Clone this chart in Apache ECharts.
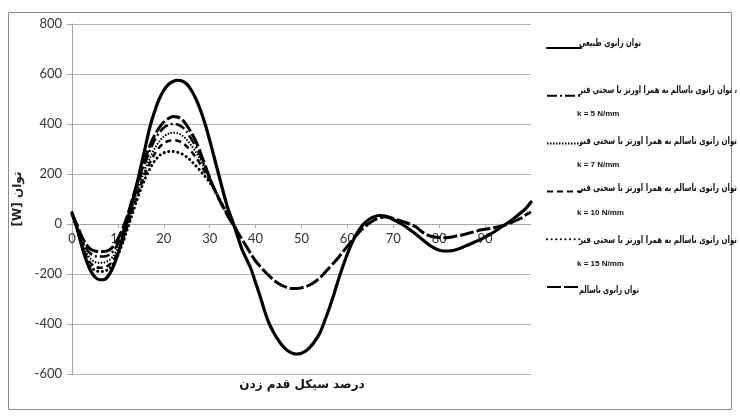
<!DOCTYPE html>
<html>
<head>
<meta charset="utf-8">
<script src="https://cdn.jsdelivr.net/npm/echarts@6/dist/echarts.min.js"></script>
<style>
html,body{margin:0;padding:0;background:#fff;}
#c{width:740px;height:417px;}
</style>
</head>
<body>
<div id="c"></div>
<script>
// gait cycle percent
const pct = Array.from({length: 101}, (_, i) => i);

// Healthy knee power [W]
const normal = [45,-10,-80,-140,-185,-212,-223,-222,-205,-170,-120,-55,10,80,150,230,310,390,450,500,
  535,558,570,575,572,560,535,500,455,400,335,265,195,125,60,10,-45,-100,-140,-180,
  -235,-290,-350,-400,-436,-466,-490,-507,-517,-520,-517,-507,-490,-466,-436,-390,-340,-285,-225,-170,
  -120,-75,-40,-12,8,22,30,34,33,27,18,8,-2,-14,-28,-42,-57,-72,-86,-97,
  -105,-108,-108,-106,-101,-94,-86,-78,-70,-62,-52,-42,-31,-19,-7,5,18,33,48,65,88];

// Unhealthy knee power (full cycle)
const unhealthy = [40,0,-45,-80,-100,-108,-110,-110,-105,-90,-60,-20,30,90,150,210,265,315,355,385,
  408,422,430,428,418,395,365,330,285,235,185,140,100,65,30,0,-30,-60,-90,-120,
  -148,-170,-190,-208,-225,-238,-248,-255,-258,-258,-255,-250,-242,-230,-215,-196,-176,-156,-135,-112,
  -90,-66,-44,-24,-8,6,17,25,28,27,22,16,10,4,-4,-12,-28,-40,-48,-52,
  -54,-55,-54,-51,-47,-44,-39,-34,-29,-24,-21,-18,-14,-11,-6,0,8,16,25,38,48];

// Unhealthy knee with orthosis (0–36 %)
const k5  = [40,-5,-55,-95,-118,-128,-130,-130,-124,-108,-78,-35,15,75,135,195,248,295,335,365,385,396,400,398,388,368,340,308,270,228,185,142,102,66,32,2,-28];
const k7  = [40,-10,-65,-110,-138,-152,-155,-154,-146,-128,-96,-52,0,58,116,172,222,265,302,330,350,361,365,363,354,337,314,287,255,220,182,142,103,67,33,3,-27];
const k10 = [40,-12,-72,-122,-155,-170,-175,-174,-165,-146,-112,-66,-12,45,102,156,205,246,280,306,323,332,335,333,325,310,290,266,238,208,176,140,103,68,34,4,-26];
const k15 = [40,-15,-78,-132,-168,-185,-190,-189,-180,-160,-125,-78,-24,32,88,140,185,222,252,273,285,290,290,287,280,268,252,233,212,190,166,138,104,70,36,5,-25];

const nameNormal = 'توان زانوی طبیعی';
const nameOrth = 'توان زانوی ناسالم به همرا اورتز با سختی فنر';
const nameUnhealthy = 'توان زانوی ناسالم';
const kLabels = ['k = 5 N/mm', 'k = 7 N/mm', 'k = 10 N/mm', 'k = 15 N/mm'];
const xTitle = 'درصد سیکل قدم زدن';
const yTitle = '[W] توان';

const pairs = arr => arr.map((v, i) => [pct[i], v]);

const seriesKeys = [nameNormal, kLabels[0], kLabels[1], kLabels[2], kLabels[3], nameUnhealthy];
const legendTexts = [nameNormal, nameOrth + ' ،', nameOrth, nameOrth, nameOrth, nameUnhealthy];
const legendTextWidth = [62, 158, 158, 158, 158, 60];
const legendRowY = [43, 90, 141, 188, 240, 290];
const kRowY = [114, 165, 213, 264];

function ser(name, data, width, type, cap, z) {
  return {
    name: name, type: 'line', data: pairs(data), symbol: 'none', smooth: 0.3,
    z: z,
    lineStyle: {color: '#000', width: width, type: type, cap: cap || 'butt'},
    itemStyle: {color: '#000'}
  };
}

// horizontal compression of legend text (the original uses a narrow face)
const legFont = 'bold 10px "DejaVu Sans", sans-serif';
const mctx = document.createElement('canvas').getContext('2d');
mctx.font = legFont;
const legendGraphics = legendTexts.map((t, i) => {
  const w = mctx.measureText(t).width || legendTextWidth[i];
  const s = Math.min(1, legendTextWidth[i] / w);
  return {type: 'text', x: 579, y: legendRowY[i], scaleX: s, scaleY: 1,
    style: {text: t, x: 0, y: 0, verticalAlign: 'middle', fill: '#111', font: legFont}};
});

const kFont = 'bold 8px "Liberation Sans Narrow", "Liberation Sans", sans-serif';
const kGraphics = kLabels.map((t, i) => ({type: 'text',
  style: {text: t, x: 577, y: kRowY[i], verticalAlign: 'middle', fill: '#111', font: kFont}}));

const chart = echarts.init(document.getElementById('c'), null, {renderer: 'canvas'});
chart.setOption({
  animation: false,
  backgroundColor: '#fff',
  grid: {left: 72, right: 209, top: 24, bottom: 43},
  xAxis: {
    type: 'value', min: 0, max: 100, interval: 10,
    position: 'bottom', offset: -150,
    axisLine: {onZero: false, lineStyle: {color: '#a6a6a6'}},
    axisTick: {show: true, length: 4, lineStyle: {color: '#a6a6a6'}},
    axisLabel: {color: '#333', fontSize: 13, fontFamily: 'Lato, "Liberation Sans", sans-serif', margin: 8, showMaxLabel: false},
    splitLine: {show: false}
  },
  yAxis: {
    type: 'value', min: -600, max: 800, interval: 200,
    name: yTitle, nameLocation: 'middle', nameGap: 44, nameRotate: 90,
    nameTextStyle: {color: '#222', fontSize: 12, fontWeight: 'bold', fontFamily: '"DejaVu Sans", sans-serif'},
    axisLine: {show: true, lineStyle: {color: '#a6a6a6'}},
    axisTick: {show: true, length: 5, lineStyle: {color: '#a6a6a6'}},
    axisLabel: {color: '#333', fontSize: 13, fontFamily: 'Lato, "Liberation Sans", sans-serif', margin: 10},
    splitLine: {show: true, lineStyle: {color: '#b4b4b4', width: 1}}
  },
  legend: {
    orient: 'vertical', left: 541, top: 37,
    itemWidth: 34, itemHeight: 12, itemGap: 37,
    data: seriesKeys,
    formatter: () => '',
    itemStyle: {opacity: 0},
    textStyle: {fontSize: 1},
    selectedMode: false
  },
  graphic: [
    {type: 'rect', shape: {x: 8.5, y: 12.5, width: 723, height: 397}, style: {fill: 'none', stroke: '#8c8c8c', lineWidth: 1}, silent: true, z: -10},
    {type: 'text', style: {text: xTitle, x: 302, y: 385, align: 'center', verticalAlign: 'middle', fill: '#111', font: 'bold 12px "DejaVu Sans", sans-serif'}}
  ].concat(legendGraphics, kGraphics),
  series: [
    ser(nameNormal, normal, 3.2, 'solid', 'round', 5),
    ser(kLabels[0], k5, 2.5, [10, 3, 2, 3], 'butt', 3),
    ser(kLabels[1], k7, 2, [1.5, 1.5], 'butt', 3),
    ser(kLabels[2], k10, 2.5, [6, 4], 'butt', 3),
    ser(kLabels[3], k15, 3, [0.1, 4.5], 'round', 3),
    ser(nameUnhealthy, unhealthy, 3, [14, 3], 'butt', 4)
  ]
});
</script>
</body>
</html>
